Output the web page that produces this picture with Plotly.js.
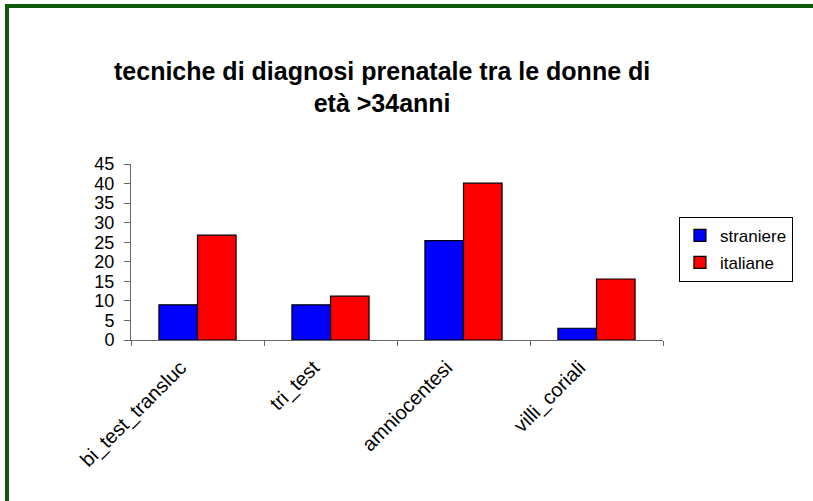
<!DOCTYPE html>
<html>
<head>
<meta charset="utf-8">
<script src="https://cdn.plot.ly/plotly-3.0.1.min.js"></script>
<style>
  body { margin: 0; background: #fff; }
  #chart { position: absolute; left: 0; top: 0; width: 813px; height: 501px; }
  #frame { position: absolute; left: 5px; top: 4px; width: 900px; height: 600px;
           border-top: 4px solid #0b5a0b; border-left: 4px solid #0b5a0b; pointer-events: none; }
</style>
</head>
<body>
<div id="chart"></div>
<div id="frame"></div>
<script>
// data
var categories = ['bi_test_transluc', 'tri_test', 'amniocentesi', 'villi_coriali'];
var straniere = [9, 9, 25.4, 3];
var italiane = [26.8, 11.2, 40.1, 15.6];
var seriesNames = ['straniere', 'italiane'];
var seriesColors = ['#0000ff', '#ff0000'];

var font = 'Liberation Sans, Arial, sans-serif';

var data = [straniere, italiane].map(function(vals, i) {
    return {
        x: categories,
        y: vals,
        name: seriesNames[i],
        type: 'bar',
        legendgroup: 'g' + i,
        marker: {color: seriesColors[i], line: {color: '#000', width: 1.2}}
    };
});

var layout = {
    width: 813,
    height: 501,
    margin: {l: 131, r: 150, t: 164, b: 161},
    paper_bgcolor: 'rgba(0,0,0,0)',
    plot_bgcolor: 'rgba(0,0,0,0)',
    font: {family: font, color: '#000', size: 17},
    title: {
        text: '<b>tecniche di diagnosi prenatale tra le donne di<br>età >34anni</b>',
        font: {family: font, size: 25, color: '#000'},
        xref: 'container', x: 0.47, xanchor: 'center',
        yref: 'container', y: 0.841, yanchor: 'top'
    },
    bargap: 0.42,
    bargroupgap: 0,
    showlegend: true,
    legend: {
        x: 1.03, xanchor: 'left',
        y: 0.7, yanchor: 'top',
        bordercolor: '#000', borderwidth: 1,
        traceorder: 'grouped', tracegroupgap: 2,
        font: {family: font, size: 17}
    },
    xaxis: {
        type: 'category',
        showgrid: false,
        zeroline: false,
        showline: true,
        linecolor: '#666',
        ticks: 'outside',
        tickson: 'boundaries',
        ticklen: 5,
        tickcolor: '#666',
        tickangle: -45,
        ticklabelstandoff: 7,
        ticklabelshift: -17,
        tickfont: {family: font, size: 20}
    },
    yaxis: {
        range: [0, 45],
        dtick: 5,
        showgrid: false,
        zeroline: false,
        showline: true,
        linecolor: '#666',
        ticks: 'outside',
        ticklen: 6,
        tickcolor: '#666',
        ticklabelstandoff: 6,
        tickfont: {family: font, size: 18}
    }
};

Plotly.newPlot('chart', data, layout, {displayModeBar: false, staticPlot: true});
</script>
</body>
</html>
